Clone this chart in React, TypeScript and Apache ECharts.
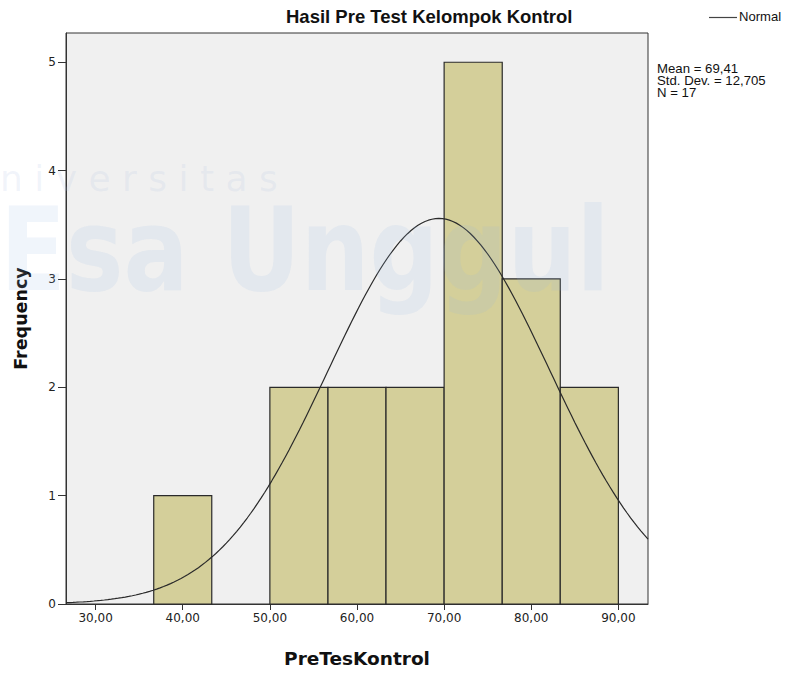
import React, { useEffect, useRef } from "react";
import * as echarts from "echarts";

// Histogram data
const binEdges = [36.67, 43.33, 50, 56.67, 63.33, 70, 76.67, 83.33, 90];
const frequencies = [1, 0, 2, 2, 2, 5, 3, 2];
const xTicks = [30, 40, 50, 60, 70, 80, 90];
const yTicks = [0, 1, 2, 3, 4, 5];
const statsLines = ["Mean = 69,41", "Std. Dev. = 12,705", "N = 17"];
const meanValue = 69.41;
const sdValue = 12.705;
const nValue = 17;
const titleText = "Hasil Pre Test Kelompok Kontrol";
const xName = "PreTesKontrol";
const yName = "Frequency";
const legendLabel = "Normal";

const X_MIN = 26.6;
const X_MAX = 93.4;

export default function App() {
  const ref = useRef<HTMLDivElement>(null);

  useEffect(() => {
    if (!ref.current) return;
    const chart = echarts.init(ref.current, undefined, { renderer: "svg" });

    const bins = frequencies.map((f, i) => [binEdges[i], binEdges[i + 1], f]);
    const binWidth = (binEdges[binEdges.length - 1] - binEdges[0]) / frequencies.length;
    const curve: number[][] = [];
    for (let x = X_MIN; x <= X_MAX + 1e-9; x += 0.4) {
      const z = (x - meanValue) / sdValue;
      const y = (nValue * binWidth) / (sdValue * Math.sqrt(2 * Math.PI)) * Math.exp(-0.5 * z * z);
      curve.push([x, y]);
    }

    const sans = "'Liberation Sans', Arial, sans-serif";
    const labelFont = "'DejaVu Sans', Verdana, sans-serif";

    chart.setOption({
      animation: false,
      backgroundColor: "#ffffff",
      grid: {
        left: 66,
        top: 33,
        right: 139,
        bottom: 68,
        show: true,
        backgroundColor: "#F0F0F0",
        borderColor: "#333333",
        borderWidth: 1,
      },
      xAxis: {
        type: "value",
        min: X_MIN,
        max: X_MAX,
        name: xName,
        nameLocation: "middle",
        nameGap: 45,
        nameTextStyle: { fontFamily: labelFont, fontWeight: "bold", fontSize: 18.5, color: "#111" },
        axisLine: { show: true, lineStyle: { color: "#333", width: 1 } },
        axisTick: { show: true, customValues: xTicks, length: 6, lineStyle: { color: "#333" } },
        axisLabel: {
          customValues: xTicks,
          formatter: (v: number) => v.toFixed(2).replace(".", ","),
          fontFamily: labelFont,
          fontSize: 12,
          color: "#222",
          margin: 8,
        },
        splitLine: { show: false },
      },
      yAxis: {
        type: "value",
        min: 0,
        max: 5.27,
        name: yName,
        nameLocation: "middle",
        nameGap: 36,
        nameTextStyle: { fontFamily: labelFont, fontWeight: "bold", fontSize: 17.5, color: "#111" },
        axisLine: { show: true, lineStyle: { color: "#333", width: 1 } },
        axisTick: { show: true, customValues: yTicks, length: 8, lineStyle: { color: "#333" } },
        axisLabel: {
          customValues: yTicks,
          fontFamily: labelFont,
          fontSize: 12,
          color: "#222",
          margin: 10,
        },
        splitLine: { show: false },
      },
      series: [
        {
          type: "custom",
          data: bins,
          encode: { x: [0, 1], y: 2 },
          renderItem: (params: any, api: any) => {
            const s = api.value(0);
            const e = api.value(1);
            const c = api.value(2);
            if (!c) return null;
            const p0 = api.coord([s, c]);
            const p1 = api.coord([e, 0]);
            return {
              type: "rect",
              shape: { x: p0[0], y: p0[1], width: p1[0] - p0[0], height: p1[1] - p0[1] },
              style: { fill: "#D4CF9A", stroke: "#2a2a2a", lineWidth: 1.2 },
            };
          },
          z: 2,
        },
        {
          type: "line",
          data: curve,
          showSymbol: false,
          smooth: false,
          lineStyle: { color: "#2a2a2a", width: 1.2 },
          z: 3,
        },
      ],
      graphic: [
        {
          type: "text",
          left: 286,
          top: 7,
          style: { text: titleText, font: `bold 18.5px ${sans}`, fill: "#111" },
        },
        {
          type: "line",
          shape: { x1: 709, y1: 17.5, x2: 737, y2: 17.5 },
          style: { stroke: "#444", lineWidth: 1.2 },
        },
        {
          type: "text",
          x: 739,
          y: 11,
          scaleX: 1.09,
          style: { text: legendLabel, font: `12px ${sans}`, fill: "#111" },
        },
        {
          type: "text",
          x: 657,
          y: 63,
          scaleX: 1.1,
          style: { text: statsLines.join("\n"), font: `12px ${sans}`, lineHeight: 12, fill: "#111" },
        },
        {
          type: "text",
          x: 0,
          y: 160,
          z: 100,
          silent: true,
          style: { text: "n i v e r s i t a s", font: `36px 'DejaVu Sans', sans-serif`, fill: "rgba(170,190,225,0.16)" },
        },
        {
          type: "text",
          x: 0,
          y: 192,
          scaleX: 0.84,
          z: 100,
          silent: true,
          style: { text: "Esa Unggul", font: `bold 115px 'DejaVu Sans', sans-serif`, fill: "rgba(150,185,230,0.14)" },
        },
      ],
    });

    return () => chart.dispose();
  }, []);

  return <div ref={ref} style={{ position: "absolute", left: 0, top: 0, width: 787, height: 673 }} />;
}
